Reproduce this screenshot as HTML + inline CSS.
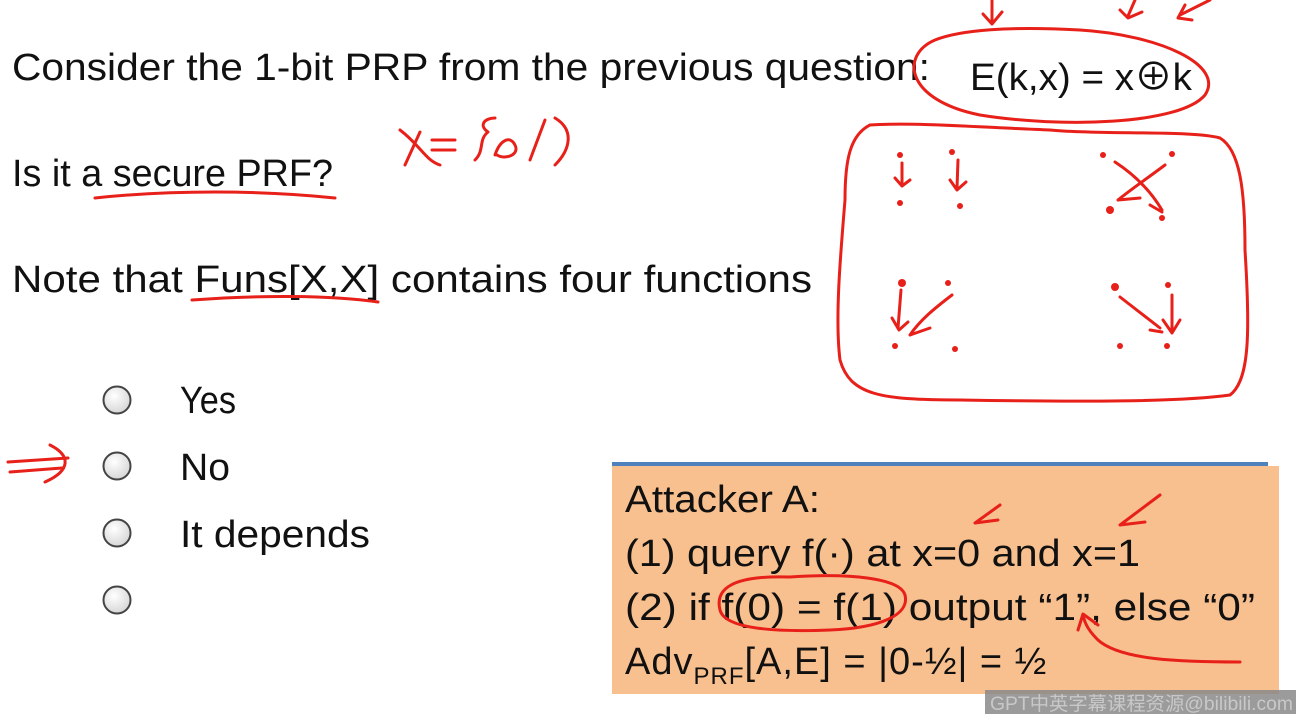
<!DOCTYPE html>
<html><head><meta charset="utf-8"><style>
html,body{margin:0;padding:0;background:#fff;width:1296px;height:714px;overflow:hidden}
svg{display:block}
text{font-family:"Liberation Sans","Noto Sans CJK SC",sans-serif;fill:#111}
.t{font-size:38px}
.red{fill:none;stroke:#e8201a;stroke-width:3;stroke-linecap:round;stroke-linejoin:round}
.dot{fill:#e8201a}
</style></head><body>
<svg width="1296" height="714" viewBox="0 0 1296 714">
<defs><radialGradient id="rg" cx="0.4" cy="0.35" r="0.7"><stop offset="0" stop-color="#ffffff"/><stop offset="1" stop-color="#d4d4d4"/></radialGradient></defs>
<text class="t" x="12" y="80" textLength="918" lengthAdjust="spacingAndGlyphs">Consider the 1-bit PRP from the previous question:</text>
<text class="t" x="970" y="90" textLength="222" lengthAdjust="spacingAndGlyphs">E(k,x) = x⊕k</text>
<text class="t" x="12" y="186" textLength="321" lengthAdjust="spacingAndGlyphs">Is it a secure PRF?</text>
<text class="t" x="12" y="292" textLength="800" lengthAdjust="spacingAndGlyphs">Note that  Funs[X,X]  contains four functions</text>

<g>
<circle cx="117" cy="400" r="13.5" fill="url(#rg)" stroke="#444" stroke-width="2"/>
<circle cx="117" cy="466" r="13.5" fill="url(#rg)" stroke="#444" stroke-width="2"/>
<circle cx="117" cy="533" r="13.5" fill="url(#rg)" stroke="#444" stroke-width="2"/>
<circle cx="117" cy="600" r="13.5" fill="url(#rg)" stroke="#444" stroke-width="2"/>
<text class="t" x="180" y="413" textLength="56" lengthAdjust="spacingAndGlyphs">Yes</text>
<text class="t" x="180" y="480" textLength="50" lengthAdjust="spacingAndGlyphs">No</text>
<text class="t" x="180" y="547" textLength="190" lengthAdjust="spacingAndGlyphs">It depends</text>
</g>

<g>
<rect x="612" y="466" width="667" height="228" fill="#f9c08f"/>
<rect x="612" y="462" width="656" height="4" fill="#4f81bd"/>
<text class="t" x="625" y="512" textLength="195" lengthAdjust="spacingAndGlyphs">Attacker A:</text>
<text class="t" x="625" y="566" textLength="515" lengthAdjust="spacingAndGlyphs">(1)  query f(·) at  x=0 and x=1</text>
<text class="t" x="625" y="620" textLength="630" lengthAdjust="spacingAndGlyphs">(2)  if f(0) = f(1) output “1”, else “0”</text>
<text class="t" x="625" y="674" letter-spacing="1">Adv<tspan font-size="24" dy="10">PRF</tspan><tspan dy="-10">[A,E] = |0-½| = ½</tspan></text>
</g>

<g>
<rect x="985" y="690" width="311" height="24" fill="#8a8a8a" opacity="0.85"/>
<text x="990" y="710" font-size="19" style="fill:#c8c8c8" textLength="303" lengthAdjust="spacingAndGlyphs">GPT中英字幕课程资源@bilibili.com</text>
</g>

<g>
<path class="red" d="M935,40 C900,55 905,100 980,115 C1060,128 1180,125 1205,95 C1225,65 1160,35 1080,30 C1010,26 960,30 935,40"/>
<path class="red" d="M992,0 L992,22 M983,14 L992,24 L1002,12"/>
<path class="red" d="M1135,0 L1128,16 M1120,10 L1128,18 L1142,12"/>
<path class="red" d="M1210,0 L1180,15 M1185,5 L1178,18 L1192,20"/>
<path class="red" d="M405,165 L420,132 M400,130 C420,145 425,160 440,165 M432,140 L455,140 M432,150 L455,150 M475,160 C485,150 478,140 488,132 C478,125 485,118 495,118 M495,155 C500,140 510,135 515,145 C520,155 505,160 497,155 M530,160 L545,120 M555,118 C575,130 570,150 555,165"/>
<path class="red" d="M95,198 C170,190 260,190 335,198"/>
<path class="red" d="M192,300 C260,295 330,295 378,302"/>
<path class="red" d="M870,125 C850,135 845,160 845,200 C840,260 835,320 840,360 C850,395 880,400 960,400 C1080,402 1180,402 1230,395 C1250,380 1250,330 1245,250 C1245,190 1240,150 1220,138 C1190,130 1100,135 1050,130 C990,128 920,122 870,125"/>
<circle class="dot" cx="900" cy="155" r="3"/><circle class="dot" cx="952" cy="152" r="3"/>
<circle class="dot" cx="900" cy="203" r="3"/><circle class="dot" cx="960" cy="206" r="3"/>
<path class="red" d="M902,163 L902,185 M895,178 L902,186 M902,186 L910,180"/>
<path class="red" d="M958,160 L957,188 M950,180 L957,190 L966,182"/>
<circle class="dot" cx="1103" cy="155" r="3"/><circle class="dot" cx="1172" cy="154" r="3"/>
<circle class="dot" cx="1110" cy="210" r="4"/><circle class="dot" cx="1162" cy="218" r="3"/>
<path class="red" d="M1115,162 C1135,175 1150,190 1162,210 M1150,205 L1162,212 M1165,165 C1145,180 1130,190 1118,200 M1118,200 L1140,198"/>
<circle class="dot" cx="902" cy="283" r="4"/><circle class="dot" cx="948" cy="283" r="3"/>
<circle class="dot" cx="895" cy="346" r="3"/><circle class="dot" cx="955" cy="349" r="3"/>
<path class="red" d="M901,290 L898,328 M892,318 L899,330 L908,322 M952,295 C935,308 920,320 910,335 M910,335 L930,328"/>
<circle class="dot" cx="1115" cy="287" r="4"/><circle class="dot" cx="1168" cy="285" r="3"/>
<circle class="dot" cx="1120" cy="346" r="3"/><circle class="dot" cx="1167" cy="346" r="3"/>
<path class="red" d="M1120,297 L1160,328 M1150,330 L1162,332 M1172,295 L1172,332 M1163,320 L1172,333 L1180,320"/>
<path class="red" d="M8,462 L68,458 M10,472 L62,468 M50,445 C70,455 72,470 45,482"/>
<path class="red" d="M1000,505 L975,523 L998,520 M1160,495 L1120,525 L1145,522"/>
<path class="red" d="M790,577 C730,575 715,590 720,610 C725,630 780,632 830,630 C880,628 910,615 905,595 C900,578 850,573 790,577"/>
<path class="red" d="M1240,662 C1180,662 1120,660 1098,640 C1090,632 1085,625 1083,615 M1078,630 L1083,614 L1098,625"/>
</g>
</svg>
</body></html>
